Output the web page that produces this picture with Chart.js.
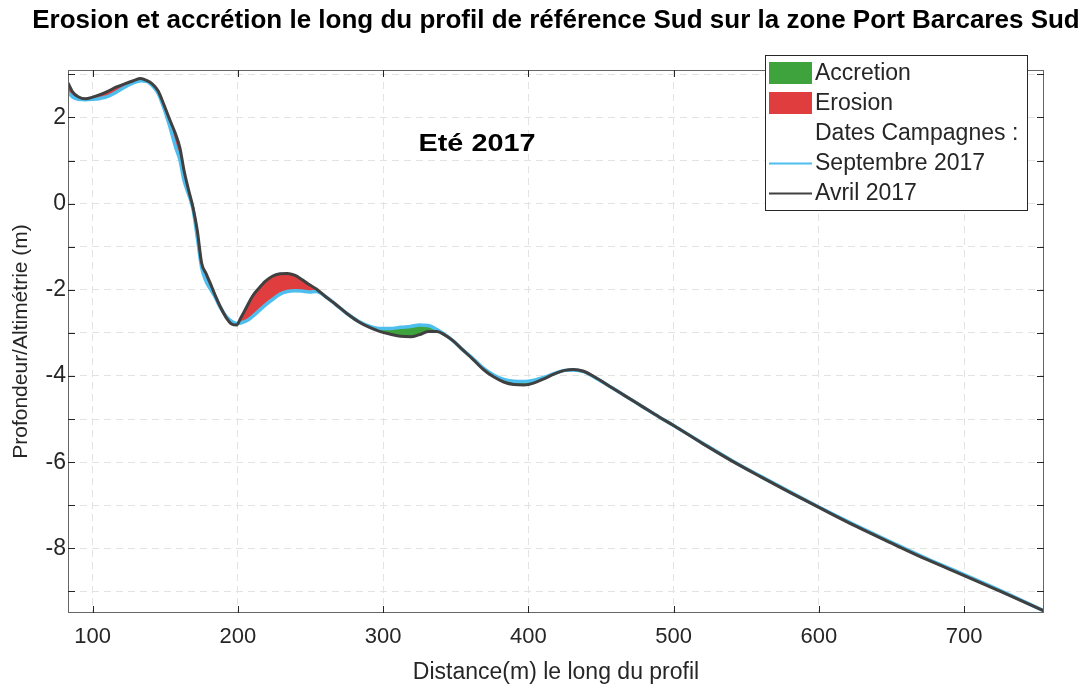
<!DOCTYPE html>
<html lang="fr">
<head>
<meta charset="utf-8">
<title>Erosion et accrétion - Port Barcares Sud</title>
<script src="https://cdn.jsdelivr.net/npm/chart.js@4.4.1/dist/chart.umd.min.js"></script>
<style>
  html, body { margin: 0; padding: 0; background: #fff; }
  canvas { display: block; }
</style>
</head>
<body>
<canvas id="profil" width="1092" height="687"></canvas>
<script>
  // Profil de référence Sud - distance le long du profil (m)
  const distances = [
    83, 86, 90, 95, 100, 105, 110, 116, 122, 128, 133, 137, 141, 145, 149, 153, 157, 160, 163, 166,
    169, 172, 175, 178, 181, 184, 188, 192, 196, 199, 202, 206, 210, 214, 219, 224, 229, 234, 239, 244,
    249, 254, 260, 267, 275, 283, 291, 298, 305, 312, 319, 325, 331, 337, 342, 348, 355, 362, 369, 376,
    383, 390, 397, 404, 411, 418, 425, 431, 438, 446, 455, 466, 478, 490, 500, 520, 540, 560, 580, 600,
    625, 650, 675, 700, 725, 755
  ];

  // Altimétrie (m) - campagne d'avril 2017
  const avril2017 = [
    2.80, 2.60, 2.48, 2.43, 2.47, 2.53, 2.60, 2.70, 2.78, 2.85, 2.90, 2.86, 2.78, 2.62, 2.30, 1.95, 1.62, 1.30, 0.75, 0.32,
    -0.08, -0.62, -1.38, -1.62, -1.85, -2.10, -2.40, -2.65, -2.80, -2.82, -2.65, -2.40, -2.15, -1.98, -1.80, -1.68, -1.63, -1.62, -1.66, -1.76,
    -1.88, -1.98, -2.15, -2.33, -2.55, -2.74, -2.88, -2.97, -3.03, -3.08, -3.09, -3.04, -2.97, -2.97, -3.04, -3.18, -3.40, -3.62, -3.85, -4.02,
    -4.14, -4.20, -4.21, -4.16, -4.06, -3.95, -3.87, -3.85, -3.89, -4.03, -4.22, -4.45, -4.70, -4.95, -5.15, -5.57, -5.97, -6.34, -6.70, -7.05,
    -7.48, -7.88, -8.27, -8.63, -9.00, -9.45
  ];

  // Altimétrie (m) - campagne de septembre 2017
  const septembre2017 = [
    2.58, 2.48, 2.42, 2.41, 2.42, 2.44, 2.48, 2.58, 2.70, 2.80, 2.85, 2.84, 2.74, 2.56, 2.22, 1.80, 1.32, 1.02, 0.52, 0.22,
    -0.12, -0.78, -1.48, -1.80, -1.98, -2.15, -2.42, -2.62, -2.74, -2.78, -2.77, -2.72, -2.62, -2.50, -2.35, -2.22, -2.10, -2.04, -2.02, -2.03,
    -2.05, -2.04, -2.15, -2.33, -2.55, -2.73, -2.85, -2.90, -2.90, -2.87, -2.85, -2.82, -2.83, -2.92, -3.03, -3.18, -3.40, -3.60, -3.82, -3.98,
    -4.08, -4.12, -4.13, -4.10, -4.03, -3.94, -3.87, -3.86, -3.90, -4.04, -4.22, -4.45, -4.70, -4.95, -5.15, -5.56, -5.96, -6.33, -6.69, -7.04,
    -7.46, -7.86, -8.25, -8.61, -8.98, -9.45
  ];

  const yTickLabels = [2, 0, -2, -4, -6, -8];
  const xTickLabels = [100, 200, 300, 400, 500, 600, 700];

  const legendItems = [
    { text: 'Accretion', kind: 'box', color: '#3ea33c' },
    { text: 'Erosion', kind: 'box', color: '#e03e3e' },
    { text: 'Dates Campagnes :', kind: 'none' },
    { text: 'Septembre 2017', kind: 'line', color: '#4dbeee' },
    { text: 'Avril 2017', kind: 'line', color: '#404040' }
  ];

  const TITLE = 'Erosion et accrétion le long du profil de référence Sud sur la zone Port Barcares Sud';
  const FONT = '"Liberation Sans", Arial, Helvetica, sans-serif';
  const INK = '#262626';

  const toPoints = (vals) => vals.map((v, i) => ({ x: distances[i], y: v }));

  // titre, cadre, graduations intérieures, légende et texte de saison
  const decorPlugin = {
    id: 'decor',
    afterDraw(chart) {
      const { ctx, chartArea: a, scales } = chart;
      ctx.save();

      // titre
      ctx.fillStyle = '#000';
      ctx.font = 'bold 26px ' + FONT;
      ctx.textAlign = 'center';
      ctx.textBaseline = 'middle';
      ctx.fillText(TITLE, 556, 21);

      // cadre
      ctx.strokeStyle = '#666';
      ctx.lineWidth = 1;
      ctx.strokeRect(a.left + 0.5, a.top + 0.5, a.right - a.left - 1, a.bottom - a.top - 1);

      // graduations vers l'intérieur
      const tl = 7;
      ctx.strokeStyle = INK;
      ctx.beginPath();
      scales.x.ticks.forEach(t => {
        const px = Math.round(scales.x.getPixelForValue(t.value)) + 0.5;
        ctx.moveTo(px, a.bottom); ctx.lineTo(px, a.bottom - tl);
        ctx.moveTo(px, a.top); ctx.lineTo(px, a.top + tl);
      });
      scales.y.ticks.forEach(t => {
        const py = Math.round(scales.y.getPixelForValue(t.value)) + 0.5;
        ctx.moveTo(a.left, py); ctx.lineTo(a.left + tl, py);
        ctx.moveTo(a.right, py); ctx.lineTo(a.right - tl, py);
      });
      ctx.stroke();

      // saison (texte un peu élargi)
      ctx.save();
      ctx.translate(477, 144);
      ctx.scale(1.2, 1);
      ctx.fillStyle = '#000';
      ctx.font = 'bold 24px ' + FONT;
      ctx.textAlign = 'center';
      ctx.textBaseline = 'middle';
      ctx.fillText('Eté 2017', 0, 0);
      ctx.restore();

      // légende
      const lx = 765, ly = 55, lw = 262, lh = 155;
      ctx.fillStyle = '#fff';
      ctx.fillRect(lx, ly, lw, lh);
      ctx.strokeStyle = INK;
      ctx.lineWidth = 1;
      ctx.strokeRect(lx + 0.5, ly + 0.5, lw, lh);
      ctx.font = '23px ' + FONT;
      ctx.textAlign = 'left';
      ctx.textBaseline = 'middle';
      legendItems.forEach((it, i) => {
        const cy = ly + 18 + i * 30;
        if (it.kind === 'box') {
          ctx.fillStyle = it.color;
          ctx.fillRect(lx + 4, cy - 11, 43, 22);
        } else if (it.kind === 'line') {
          ctx.strokeStyle = it.color;
          ctx.lineWidth = 2;
          ctx.beginPath();
          ctx.moveTo(lx + 4, cy + 0.5); ctx.lineTo(lx + 47, cy + 0.5);
          ctx.stroke();
        }
        ctx.fillStyle = INK;
        ctx.fillText(it.text, lx + 50, cy + 1);
      });

      ctx.restore();
    }
  };

  const gridStyle = {
    color: '#e3e3e3',
    lineWidth: 1,
    drawTicks: false
  };

  new Chart(document.getElementById('profil'), {
    type: 'line',
    data: {
      datasets: [
        {
          label: 'Avril 2017',
          data: toPoints(avril2017),
          borderColor: '#404040',
          borderWidth: 3,
          pointRadius: 0,
          cubicInterpolationMode: 'monotone',
          fill: false
        },
        {
          label: 'Septembre 2017',
          data: toPoints(septembre2017),
          borderColor: '#4dbeee',
          borderWidth: 3.5,
          pointRadius: 0,
          cubicInterpolationMode: 'monotone',
          fill: { target: 0, above: '#3ea33c', below: '#e03e3e' }
        }
      ]
    },
    options: {
      responsive: false,
      devicePixelRatio: 1,
      animation: false,
      layout: { padding: { right: 48, left: 0, top: 70, bottom: 0 } },
      plugins: {
        legend: { display: false },
        tooltip: { enabled: false },
        title: { display: false }
      },
      scales: {
        x: {
          type: 'linear',
          min: 83,
          max: 755,
          border: { display: false, dash: [7, 5] },
          grid: gridStyle,
          ticks: {
            stepSize: 100,
            includeBounds: false,
            autoSkip: false,
            maxRotation: 0,
            padding: 11,
            color: INK,
            font: { family: FONT, size: 22 },
            callback: (v) => xTickLabels.includes(v) ? String(v) : ''
          },
          title: {
            display: true,
            text: 'Distance(m) le long du profil',
            color: INK,
            font: { family: FONT, size: 23 },
            padding: { top: 0, bottom: 1 }
          },
          afterFit: (s) => { s.height = 74; }
        },
        y: {
          type: 'linear',
          min: -9.5,
          max: 3.1,
          border: { display: false, dash: [7, 5] },
          grid: gridStyle,
          ticks: {
            stepSize: 1,
            includeBounds: false,
            autoSkip: false,
            padding: 2,
            color: INK,
            font: { family: FONT, size: 23 },
            callback: (v) => yTickLabels.includes(v) ? String(v) : ''
          },
          title: {
            display: true,
            text: 'Profondeur/Altimétrie (m)',
            color: INK,
            font: { family: FONT, size: 21 },
            padding: { top: 9, bottom: 0 }
          },
          afterFit: (s) => { s.width = 68; }
        }
      }
    },
    plugins: [decorPlugin]
  });
</script>
</body>
</html>
